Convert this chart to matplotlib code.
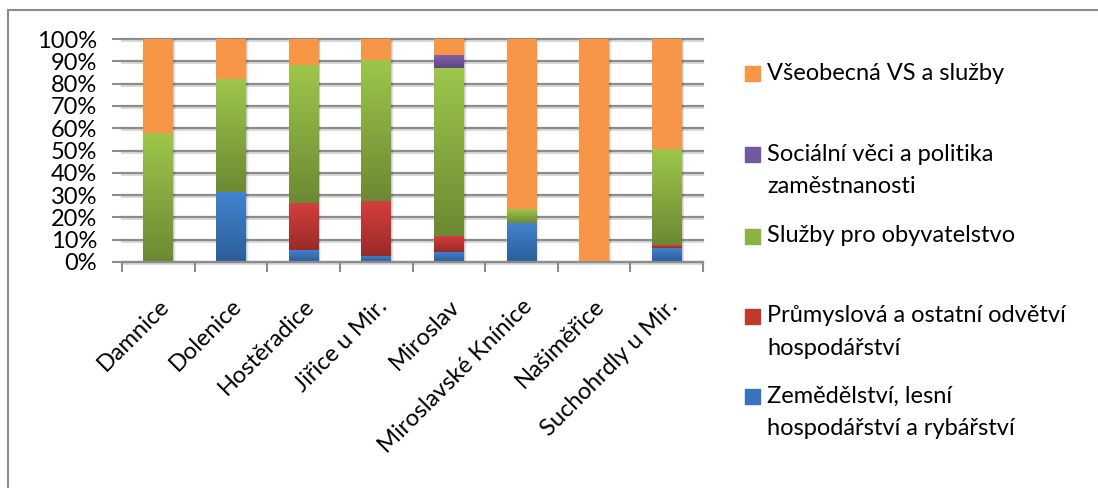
import numpy as np
import matplotlib.pyplot as plt
import matplotlib.transforms as mtransforms
from matplotlib.colors import LinearSegmentedColormap
from matplotlib.lines import Line2D
from matplotlib.patches import Rectangle

# shares of each field per municipality (percent)
obce = ["Damnice", "Dolenice", "Hostěradice", "Jiřice u Mir.", "Miroslav",
        "Miroslavské Knínice", "Našiměřice", "Suchohrdly u Mir."]
zemedelstvi = [0, 31.5, 5.4, 2.7, 4.5, 17.5, 0, 6.3]
prumysl = [0, 0, 21.1, 24.7, 7.2, 0, 0, 1.3]
sluzby_obyv = [58.0, 50.5, 61.7, 63.3, 75.4, 6.2, 0, 43.0]
socialni = [0, 0, 0, 0, 5.9, 0, 0, 0]
vseobecna = [42.0, 18.0, 11.8, 9.3, 7.0, 76.3, 100.0, 49.4]

series_names = [
    "Zemědělství, lesní\nhospodářství a rybářství",
    "Průmyslová a ostatní odvětví\nhospodářství",
    "Služby pro obyvatelstvo",
    "Sociální věci a politika\nzaměstnanosti",
    "Všeobecná VS a služby",
]
series_vals = [zemedelstvi, prumysl, sluzby_obyv, socialni, vseobecna]
# (bottom colour, top colour) of the Excel-like gradient
series_cols = [
    ("#2c5d99", "#4384d0"),
    ("#9a2a29", "#d4403d"),
    ("#6c8933", "#9ec64b"),
    ("#5d4682", "#8563a9"),
    ("#f79646", "#f79646"),
]
legend_col = ["#3a73bd", "#c0392f", "#8bb143", "#7258a0", "#f79646"]

GRID = "#8c8c8c"
FONT = "Lato"
FS = 17

fig = plt.figure(figsize=(10.98, 4.88), dpi=100)
ax = fig.add_axes([122 / 1098, 1 - 262 / 488, 581 / 1098, 223 / 488])

x = np.arange(len(obce))
w = 0.41

# soft shadow to the right of each column
totals = np.sum(series_vals, axis=0)
for k, a in enumerate([0.10, 0.07, 0.04]):
    ax.bar(x + 0.015 + k * 0.012, totals, width=w, color="#000000",
           alpha=a, edgecolor="none", zorder=1.5)

bottom = np.zeros(len(obce))
for vals, (c0, c1) in zip(series_vals, series_cols):
    vals = np.array(vals, dtype=float)
    bars = ax.bar(x, vals, bottom=bottom, width=w, color=c0,
                  edgecolor="none", zorder=2)
    cmap = LinearSegmentedColormap.from_list("g", [c0, c1])
    grad = np.linspace(0, 1, 128).reshape(-1, 1)
    for p in bars:
        if p.get_height() <= 0:
            continue
        x0, y0 = p.get_x(), p.get_y()
        im = ax.imshow(grad, cmap=cmap, origin="lower", aspect="auto",
                       extent=(x0, x0 + p.get_width(), y0, y0 + p.get_height()),
                       zorder=2.1, interpolation="bilinear")
        im.set_clip_path(p)
    bottom += vals

ax.set_xlim(-0.5, len(obce) - 0.5)
ax.set_ylim(0, 100)

# gridlines with a light shadow underneath
ytr = ax.get_yaxis_transform()
shadow = mtransforms.offset_copy(ytr, fig=fig, x=0, y=-2, units="dots")
for v in range(0, 101, 10):
    ax.plot([0, 1], [v, v], transform=ytr, color=GRID, lw=1.6, zorder=1,
            clip_on=False)
    ax.plot([0, 1], [v, v], transform=shadow, color="#d9d9d9", lw=1.4,
            zorder=0.9, clip_on=False)

ax.set_yticks(range(0, 101, 10))
ax.set_yticklabels([f"{v}%" for v in range(0, 101, 10)], fontfamily=FONT, fontsize=FS)
ax.tick_params(axis="y", length=7, width=1.5, color=GRID, pad=11)

ax.set_xticks(np.arange(-0.5, len(obce), 1))
ax.set_xticklabels([])
ax.set_xticks(x, minor=True)
ax.set_xticklabels(obce, minor=True, rotation=45, ha="right", va="top",
                   rotation_mode="anchor", fontfamily=FONT, fontsize=FS)
ax.tick_params(axis="x", which="major", length=7, width=1.5, color=GRID)
ax.tick_params(axis="x", which="minor", length=0, pad=24)

for s in ["left", "right", "top"]:
    ax.spines[s].set_visible(False)
ax.spines["bottom"].set_color(GRID)
ax.spines["bottom"].set_linewidth(1.6)
ax.spines["bottom"].set_zorder(3)

# legend, drawn by hand like the Excel layout
leg_y = [73.5, 154, 236, 316, 396]
line_h = 32.5
for name, col, yy in zip(reversed(series_names), reversed(legend_col), leg_y):
    fig.patches.append(Rectangle((745 / 1098, 1 - (yy + 7.5) / 488), 15 / 1098, 15 / 488,
                                 transform=fig.transFigure, color=col))
    for j, line in enumerate(name.split("\n")):
        fig.text(767 / 1098, 1 - (yy + j * line_h) / 488, line, ha="left",
                 va="center", fontfamily=FONT, fontsize=FS, color="#000000")

# chart border (right and bottom edges fall outside the picture)
bx, by = 7.5 / 1098, 1 - 10 / 488
fig.add_artist(Line2D([bx, 1.01], [by, by], transform=fig.transFigure, color=GRID, lw=1.5))
fig.add_artist(Line2D([bx, bx], [by, -0.01], transform=fig.transFigure, color=GRID, lw=1.5))

fig.savefig("out.png", dpi=100)
